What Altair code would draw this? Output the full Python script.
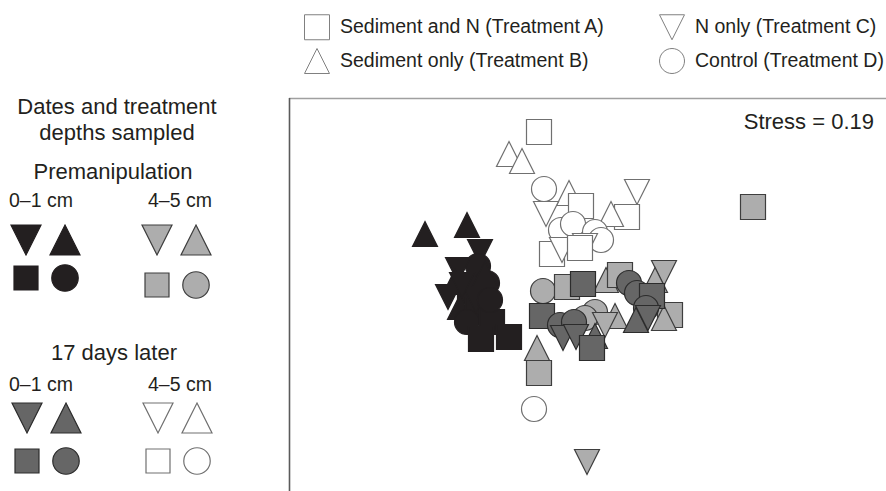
import altair as alt
import pandas as pd

# ---- treatments and sampling groups -------------------------------------
TREATMENT_LABELS = {
    "A": "Sediment and N (Treatment A)",
    "B": "Sediment only (Treatment B)",
    "C": "N only (Treatment C)",
    "D": "Control (Treatment D)",
}
LEGEND_ORDER = ["A", "B", "C", "D"]

GROUPS = ["Pre 0–1 cm", "Pre 4–5 cm", "Day 17 0–1 cm", "Day 17 4–5 cm"]

# ---- NMDS scores ---------------------------------------------------------
# 17 days later, 4–5 cm
day17_deep_trt = ["A", "B", "B", "D", "B", "A", "C", "A", "B", "C",
                  "D", "D", "D", "D", "A", "C", "C", "A", "D"]
day17_deep_x = [-0.255, -0.405, -0.34, -0.23, -0.105, -0.045, 0.235, 0.185, 0.105, -0.22,
                -0.145, -0.085, 0.025, 0.055, -0.19, -0.14, -0.025, -0.05, -0.28]
day17_deep_y = [0.84, 0.73, 0.695, 0.555, 0.535, 0.47, 0.54, 0.415, 0.43, 0.43,
                0.35, 0.38, 0.34, 0.30, 0.23, 0.25, 0.27, 0.26, -0.545]

# premanipulation, 4–5 cm
pre_deep_trt = ["D", "A", "B", "A", "C", "B", "A", "B", "D", "D",
                "B", "C", "B", "A", "C", "A"]
pre_deep_x = [-0.235, -0.115, 0.08, 0.15, 0.37, 0.325, 0.40, 0.37, 0.025, -0.025,
              0.125, 0.075, -0.265, -0.255, -0.015, 0.815]
pre_deep_y = [0.045, 0.065, 0.10, 0.125, 0.135, 0.10, -0.075, -0.09, -0.06, -0.09,
              -0.08, -0.125, -0.24, -0.365, -0.81, 0.465]

# 17 days later, 0–1 cm
day17_surf_trt = ["A", "D", "D", "A", "D", "A", "D", "D", "B", "C",
                  "C", "A", "B", "C"]
day17_surf_x = [-0.035, 0.195, 0.235, 0.31, 0.28, -0.24, -0.15, -0.08, 0.025, -0.135,
                -0.07, 0.01, 0.23, 0.29]
day17_surf_y = [0.08, 0.085, 0.035, 0.02, -0.04, -0.08, -0.125, -0.11, -0.18, -0.19,
                -0.185, -0.24, -0.10, -0.09]

# premanipulation, 0–1 cm
pre_surf_trt = ["B", "B", "C", "D", "C", "B", "D", "A", "C", "B",
                "A", "D", "A", "A", "A", "C", "D", "C", "B"]
pre_surf_x = [-0.825, -0.615, -0.55, -0.56, -0.66, -0.675, -0.515, -0.60, -0.71, -0.65,
              -0.56, -0.615, -0.49, -0.545, -0.405, -0.57, -0.50, -0.64, -0.525]
pre_surf_y = [0.33, 0.375, 0.24, 0.17, 0.15, 0.09, 0.085, 0.05, 0.015, -0.035,
              -0.05, -0.11, -0.11, -0.195, -0.185, 0.0, 0.0, 0.075, 0.13]

STRESS = 0.19

# ---- table of scores (drawing order: first rows underneath) -------------
frames = []
for grp, trt, xs, ys in [
    ("Day 17 4–5 cm", day17_deep_trt, day17_deep_x, day17_deep_y),
    ("Pre 4–5 cm", pre_deep_trt, pre_deep_x, pre_deep_y),
    ("Day 17 0–1 cm", day17_surf_trt, day17_surf_x, day17_surf_y),
    ("Pre 0–1 cm", pre_surf_trt, pre_surf_x, pre_surf_y),
]:
    frames.append(pd.DataFrame({
        "group": grp,
        "treatment": [TREATMENT_LABELS[t] for t in trt],
        "nmds1": xs,
        "nmds2": ys,
    }))
scores = pd.concat(frames, ignore_index=True)
scores["draw"] = range(len(scores))

# ---- shared encodings ----------------------------------------------------
SYMBOLS = {
    "A": "M-1,-1H1V1H-1Z",
    "C": "M-1,-1L1,-1L0,1Z",
    "B": "M0,-1L1,1L-1,1Z",
    "D": "M1,0A1,1,0,1,1,-1,0A1,1,0,1,1,1,0Z",
}
shape_scale = alt.Scale(domain=[TREATMENT_LABELS[t] for t in LEGEND_ORDER],
                        range=[SYMBOLS[t] for t in LEGEND_ORDER])
fill_scale = alt.Scale(domain=GROUPS, range=["#231f20", "#adadad", "#666666", "#ffffff"])
stroke_scale = alt.Scale(domain=GROUPS, range=["#231f20", "#3e3e3e", "#2c2c2c", "#707070"])

FONT = "Liberation Sans"
TEXT_COLOR = "#231f20"

shape_legend = alt.Legend(
    title=None, orient="none", legendX=304, legendY=14, columns=2,
    symbolSize=625, symbolFillColor="white", symbolStrokeColor="#808080",
    symbolStrokeWidth=1, symbolOpacity=1,
    labelFont=FONT, labelFontSize=19.5, labelColor=TEXT_COLOR, labelOffset=10,
    labelLimit=400, rowPadding=4, columnPadding=52, padding=0,
)

points = alt.Chart(scores).mark_point(
    filled=True, size=625, strokeWidth=1.2, opacity=1, fillOpacity=1, strokeOpacity=1
).encode(
    x=alt.X("nmds1:Q", scale=alt.Scale(domain=[-2.95, 1.48], nice=False, zero=False), axis=None),
    y=alt.Y("nmds2:Q", scale=alt.Scale(domain=[-0.955, 1.5], nice=False, zero=False), axis=None),
    shape=alt.Shape("treatment:N", scale=shape_scale, legend=shape_legend),
    fill=alt.Fill("group:N", scale=fill_scale, legend=None),
    stroke=alt.Stroke("group:N", scale=stroke_scale, legend=None),
    order=alt.Order("draw:Q"),
)

one = pd.DataFrame({"k": [0]})

frame_top = alt.Chart(one).mark_rule(color="#a0a0a0", strokeWidth=1.5).encode(
    x=alt.value(289), x2=alt.value(886), y=alt.value(98.5))
frame_left = alt.Chart(one).mark_rule(color="#5a5a5a", strokeWidth=1.6).encode(
    x=alt.value(289.5), y=alt.value(98), y2=alt.value(491))

stress = alt.Chart(one).mark_text(
    align="right", baseline="middle", font=FONT, fontSize=22, color=TEXT_COLOR
).encode(x=alt.value(874), y=alt.value(122), text=alt.value(f"Stress = {STRESS:.2f}"))


def label(txt, x, y, size, align="center"):
    return alt.Chart(one).mark_text(
        align=align, baseline="middle", font=FONT, fontSize=size, color=TEXT_COLOR
    ).encode(x=alt.value(x), y=alt.value(y), text=alt.value(txt))


key_text = [
    label("Dates and treatment", 117, 107, 22),
    label("depths sampled", 117, 133, 22),
    label("Premanipulation", 113, 172, 22),
    label("0–1 cm", 9, 201, 19.5, "left"),
    label("4–5 cm", 148, 201, 19.5, "left"),
    label("17 days later", 114, 353, 22),
    label("0–1 cm", 9, 385, 19.5, "left"),
    label("4–5 cm", 148, 385, 19.5, "left"),
]

# key: 2x2 block of symbols per sampling group
KEY_BLOCK = {  # left column x, top row y, bottom row y
    "Pre 0–1 cm": (26, 240, 278),
    "Pre 4–5 cm": (157, 240, 285),
    "Day 17 0–1 cm": (27, 418, 461),
    "Day 17 4–5 cm": (158, 418, 461),
}
KEY_COL_STEP = 39
KEY_CELL = {"C": (0, 0), "B": (1, 0), "A": (0, 1), "D": (1, 1)}
KEY_SIZE = {"A": 576, "B": 900, "C": 900, "D": 700}
rows = []
for grp in GROUPS:
    x0, ytop, ybot = KEY_BLOCK[grp]
    for t, (c, r) in KEY_CELL.items():
        rows.append({"group": grp, "code": t, "treatment": TREATMENT_LABELS[t],
                     "kx": x0 + c * KEY_COL_STEP, "ky": ytop if r == 0 else ybot})
key_df = pd.DataFrame(rows)

key_layers = []
for t in LEGEND_ORDER:
    key_layers.append(
        alt.Chart(key_df).transform_filter(alt.datum.code == t).mark_point(
            filled=True, size=KEY_SIZE[t], strokeWidth=1.2,
            opacity=1, fillOpacity=1, strokeOpacity=1
        ).encode(
            x=alt.X("kx:Q", scale=None, axis=None),
            y=alt.Y("ky:Q", scale=None, axis=None),
            shape=alt.Shape("treatment:N", scale=shape_scale, legend=shape_legend),
            fill=alt.Fill("group:N", scale=fill_scale, legend=None),
            stroke=alt.Stroke("group:N", scale=stroke_scale, legend=None),
        )
    )

chart = alt.layer(
    frame_top, frame_left, points, stress, *key_layers, *key_text
).resolve_scale(
    x="independent", y="independent"
).properties(
    width=886, height=491, padding=0,
    autosize=alt.AutoSizeParams(type="none"),
).configure_view(stroke=None)

chart.save("out.html", embed_options={"renderer": "svg", "actions": False})
